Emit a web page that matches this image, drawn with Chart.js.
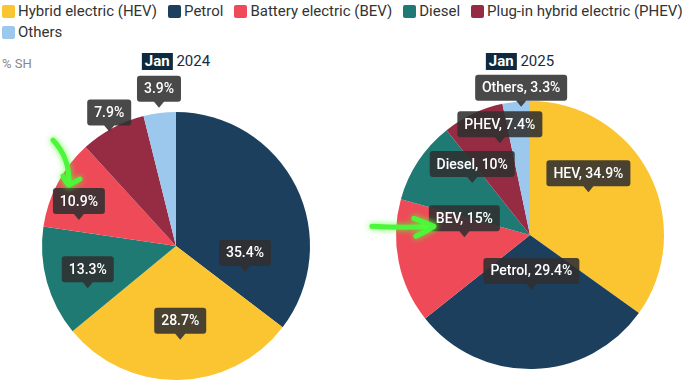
<!DOCTYPE html>
<html><head><meta charset="utf-8">
<script src="https://cdn.jsdelivr.net/npm/chart.js@4"></script>
<style>
html,body{margin:0;padding:0;background:#fff;}
body{width:690px;height:380px;position:relative;overflow:hidden;font-family:Roboto,sans-serif;}
#legend{position:absolute;left:2px;top:2px;width:688px;display:flex;flex-wrap:wrap;row-gap:3px;column-gap:11px;font-size:15px;color:#333;line-height:18px}
.item{display:flex;align-items:center}
.sw{width:13px;height:13px;border-radius:2px;margin-right:3px}
#unit{position:absolute;left:2px;top:56px;font-size:13px;color:#888}
.title{position:absolute;top:53px;font-size:15px;color:#132d45;transform:translateX(-50%);white-space:nowrap;line-height:17px}
.title b{background:#0e2a40;color:#fff;padding:0 3px;font-weight:700;display:inline-block}
.wrap{position:absolute}
</style></head>
<body>
<div id="legend"></div>
<div id="unit">% SH</div>
<div class="title" id="t1" style="left:176px"></div>
<div class="title" id="t2" style="left:520px"></div>
<div class="wrap" style="left:0;top:72px"><canvas id="c1" width="352" height="308"></canvas></div>
<div class="wrap" style="left:352px;top:72px"><canvas id="c2" width="338" height="308"></canvas></div>
<script>
// ---- data ----
const seriesNames = ['Hybrid electric (HEV)','Petrol','Battery electric (BEV)','Diesel','Plug-in hybrid electric (PHEV)','Others'];
const shortNames  = ['HEV','Petrol','BEV','Diesel','PHEV','Others'];
const titles = [['Jan','2024'],['Jan','2025']];
const order2024 = ['Petrol','HEV','Diesel','BEV','PHEV','Others'];
const share2024 = [35.4, 28.7, 13.3, 10.9, 7.9, 3.9];
const order2025 = ['HEV','Petrol','BEV','Diesel','PHEV','Others'];
const share2025 = [34.9, 29.4, 15, 10, 7.4, 3.3];

// ---- styles ----
const colorMap = {HEV:'#fbc431', Petrol:'#1c3f5e', BEV:'#ef4a58', Diesel:'#1f7a73', PHEV:'#952c44', Others:'#9cc8ee'};
// label anchor: [angle shift from slice middle (deg), fraction of radius]
const anchors2024 = [[47,0.55],[-1.5,0.70],[-10,0.73],[-13,0.75],[-2,0.99],[0,1.04]];
const anchors2025 = [[-9,0.54],[0,0.41],[9.5,0.49],[8.5,0.58],[7,0.72],[2,0.96]];

Chart.defaults.font.family = 'Roboto';

// legend
const lg = document.getElementById('legend');
seriesNames.forEach((n,i)=>{
  const it = document.createElement('div'); it.className='item';
  it.innerHTML = '<span class="sw" style="background:'+colorMap[shortNames[i]]+'"></span><span>'+n+'</span>';
  lg.appendChild(it);
});
document.getElementById('t1').innerHTML = '<b>'+titles[0][0]+'</b> '+titles[0][1];
document.getElementById('t2').innerHTML = '<b>'+titles[1][0]+'</b> '+titles[1][1];

function drawArrow(ctx, pts, head){
  ctx.save();
  ctx.strokeStyle = '#4cf73a';
  ctx.lineWidth = 5;
  ctx.lineCap = 'round'; ctx.lineJoin='round';
  ctx.shadowColor = 'rgba(90,255,60,0.9)';
  ctx.shadowBlur = 6;
  ctx.beginPath();
  ctx.moveTo(pts[0][0],pts[0][1]);
  ctx.quadraticCurveTo(pts[1][0],pts[1][1],pts[2][0],pts[2][1]);
  ctx.stroke();
  ctx.beginPath();
  ctx.moveTo(head[0][0],head[0][1]);
  ctx.quadraticCurveTo(head[1][0],head[1][1],head[2][0],head[2][1]);
  ctx.quadraticCurveTo(head[3][0],head[3][1],head[4][0],head[4][1]);
  ctx.stroke();
  ctx.restore();
}

const boxLabels = {
  id:'boxLabels',
  afterDatasetsDraw(chart, args, opts){
    const ctx = chart.ctx;
    const meta = chart.getDatasetMeta(0);
    ctx.save();
    ctx.font = '500 14px Roboto';
    ctx.textAlign = 'center'; ctx.textBaseline='middle';
    let bev = null;
    meta.data.forEach((arc,i)=>{
      const p = arc.getProps(['x','y','startAngle','endAngle','outerRadius'], true);
      const [dA,f] = opts.anchors[i];
      const a = (p.startAngle+p.endAngle)/2 + dA*Math.PI/180;
      const tx = p.x + Math.cos(a)*p.outerRadius*f;
      const ty = p.y + Math.sin(a)*p.outerRadius*f;
      const text = opts.format(i);
      const w = Math.round(ctx.measureText(text).width + 14);
      const h = 26, ph = 6, r = 3;
      const bx = tx - w/2, by = ty - ph - h;
      ctx.beginPath();
      ctx.moveTo(bx+r,by);
      ctx.lineTo(bx+w-r,by); ctx.quadraticCurveTo(bx+w,by,bx+w,by+r);
      ctx.lineTo(bx+w,by+h-r); ctx.quadraticCurveTo(bx+w,by+h,bx+w-r,by+h);
      ctx.lineTo(tx+5,by+h); ctx.lineTo(tx,by+h+ph); ctx.lineTo(tx-5,by+h);
      ctx.lineTo(bx+r,by+h); ctx.quadraticCurveTo(bx,by+h,bx,by+h-r);
      ctx.lineTo(bx,by+r); ctx.quadraticCurveTo(bx,by,bx+r,by);
      ctx.closePath();
      ctx.fillStyle = 'rgba(48,48,48,0.88)';
      ctx.fill();
      ctx.fillStyle = '#fff';
      ctx.fillText(text, tx, by+h/2+1);
      if (opts.names[i]==='BEV') bev = {l:bx, t:by, cx:tx, cy:by+h/2, w};
    });
    ctx.restore();
    if (bev && opts.arrow==='down'){
      drawArrow(ctx,[[bev.cx-26,bev.t-48],[bev.cx-9,bev.t-30],[bev.cx-10,bev.t-5]],
        [[bev.cx-16,bev.t-12],[bev.cx-12,bev.t-4],[bev.cx-10,bev.t-3],[bev.cx-6,bev.t-5],[bev.cx+1,bev.t-9]]);
    }
    if (bev && opts.arrow==='right'){
      drawArrow(ctx,[[bev.l-57,bev.cy+8],[bev.l-25,bev.cy+10],[bev.l+4,bev.cy+8]],
        [[bev.l-15,bev.cy],[bev.l-2,bev.cy+5],[bev.l+5,bev.cy+8],[bev.l-3,bev.cy+13],[bev.l-13,bev.cy+18]]);
    }
  }
};

function makePie(id, order, values, anchors, padding, fmt, arrow){
  new Chart(document.getElementById(id), {
    type:'pie',
    data:{labels: order, datasets:[{data: values, backgroundColor: order.map(n=>colorMap[n]), borderWidth:0, hoverOffset:0}]},
    options:{
      responsive:false, animation:false,
      layout:{padding},
      events:[],
      plugins:{legend:{display:false}, tooltip:{enabled:false},
        boxLabels:{anchors, names:order, format:fmt, arrow}}
    },
    plugins:[boxLabels]
  });
}
makePie('c1', order2024, share2024, anchors2024, {left:42,right:42,top:40,bottom:0}, i=>share2024[i]+'%', 'down');
makePie('c2', order2025, share2025, anchors2025, {left:44,right:26,top:29,bottom:11}, i=>order2025[i]+', '+share2025[i]+'%', 'right');
</script>
</body></html>
